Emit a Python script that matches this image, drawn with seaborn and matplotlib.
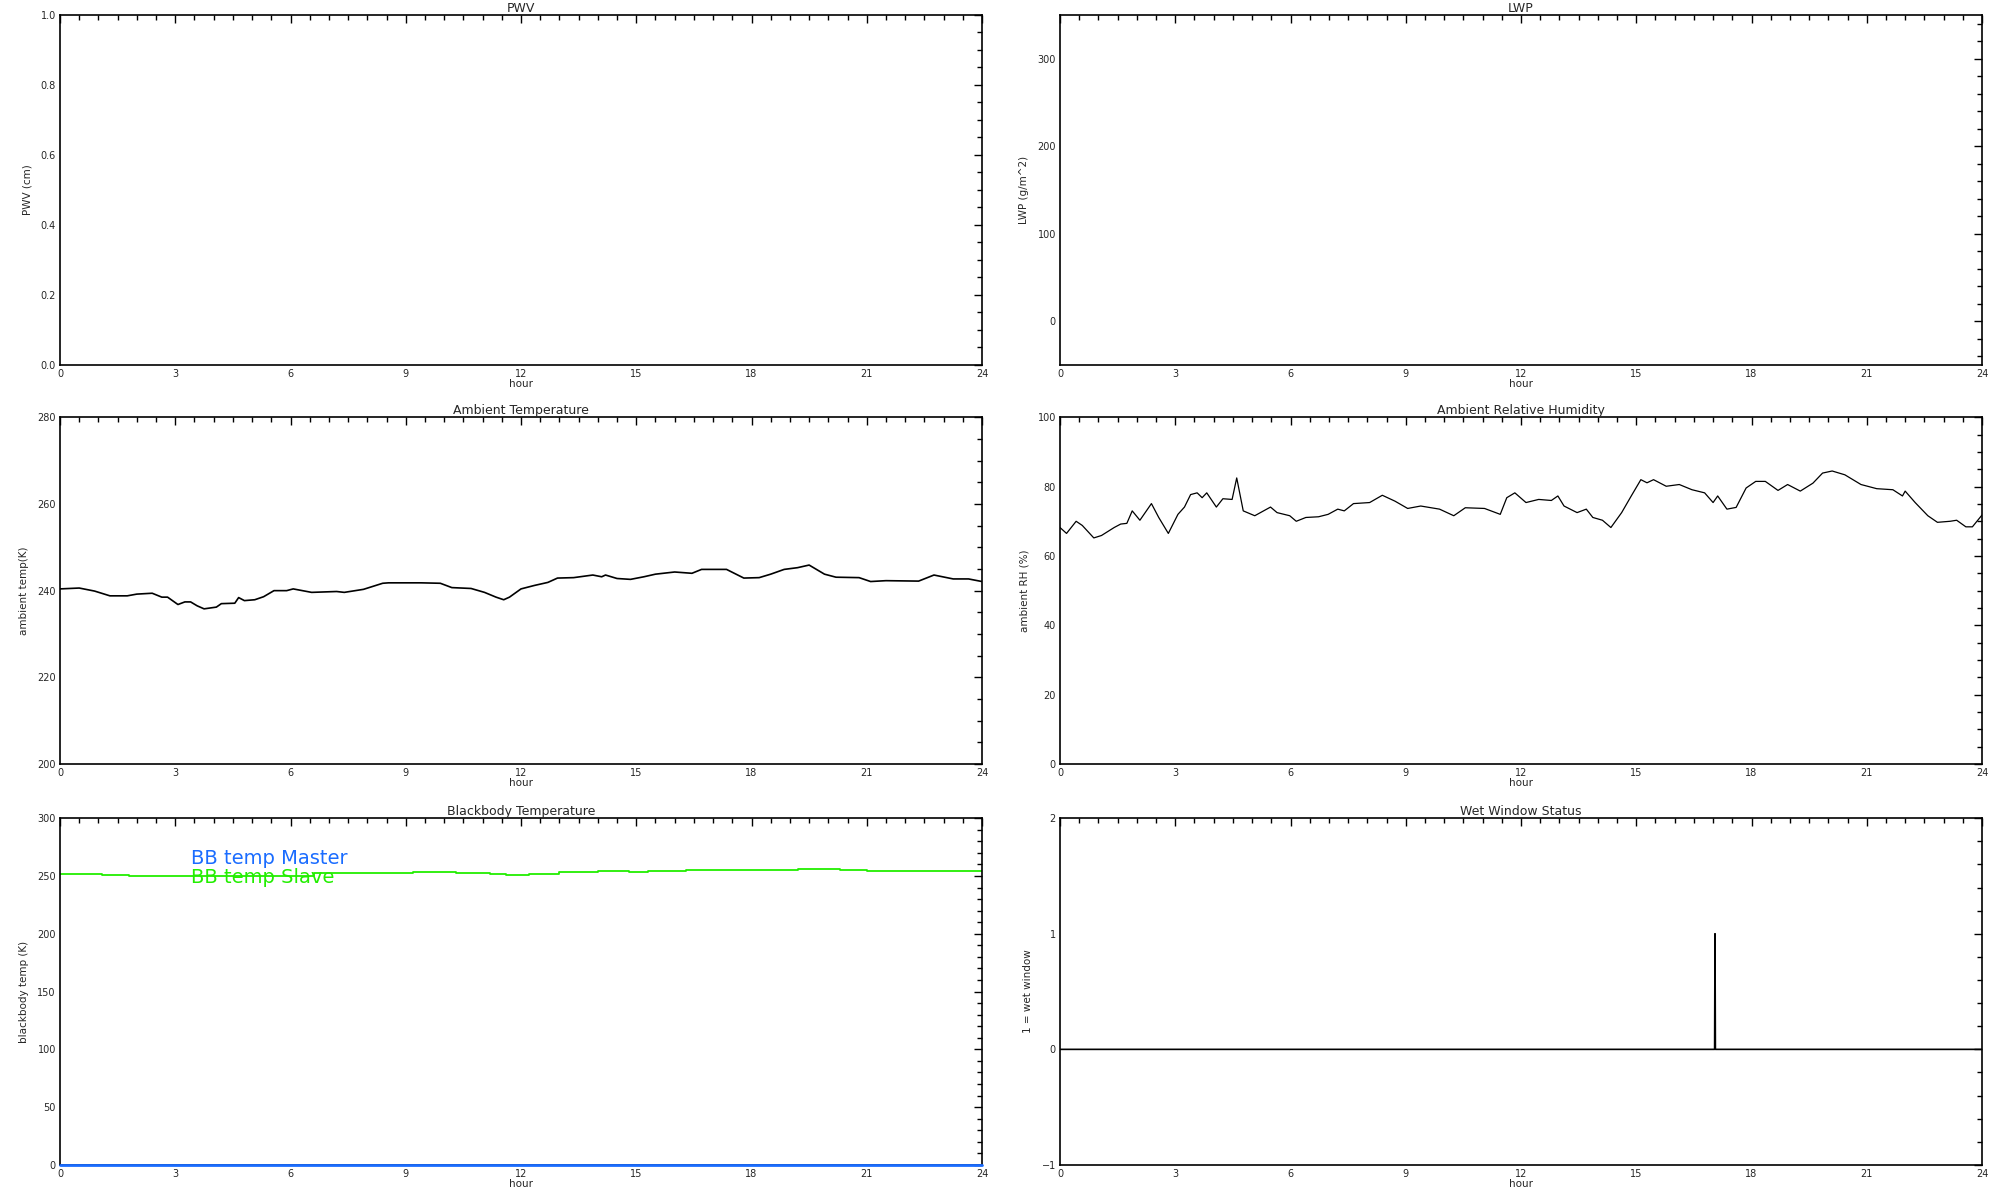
import numpy as np
import pandas as pd
import matplotlib
matplotlib.use("Agg")
import matplotlib.pyplot as plt
from matplotlib.ticker import MultipleLocator, FormatStrFormatter
import seaborn as sns

sns.set_theme(style="white")
plt.rcParams['font.family'] = ['DejaVu Sans']

# --- data
temp_hours = [0.0, 0.5, 0.9, 1.3, 1.75, 2.0, 2.4, 2.65, 2.8, 3.07, 3.25, 3.4, 3.57, 3.75,
              4.07, 4.2, 4.55, 4.65, 4.8, 5.07, 5.3, 5.57, 5.9, 6.07, 6.55, 7.2, 7.4, 7.9,
              8.4, 8.55, 9.4, 9.9, 10.2, 10.7, 11.05, 11.35, 11.55, 11.7, 12.0, 12.35,
              12.7, 12.95, 13.37, 13.87, 14.1, 14.2, 14.5, 14.85, 15.2, 15.5, 16.0, 16.45,
              16.7, 17.35, 17.8, 18.2, 18.5, 18.85, 19.2, 19.5, 19.9, 20.2, 20.8, 21.1,
              21.5, 22.35, 22.75, 23.25, 23.65, 24.0]
temp_values = [240.4, 240.6, 239.9, 238.8, 238.8, 239.2, 239.4, 238.5, 238.5, 236.8, 237.4,
               237.4, 236.5, 235.8, 236.2, 237.0, 237.1, 238.4, 237.7, 237.9, 238.6, 240.0,
               240.0, 240.4, 239.6, 239.8, 239.6, 240.3, 241.7, 241.8, 241.8, 241.7, 240.7,
               240.5, 239.6, 238.5, 237.9, 238.5, 240.4, 241.2, 241.9, 242.9, 243.0, 243.6,
               243.2, 243.6, 242.8, 242.6, 243.2, 243.8, 244.3, 244.0, 244.9, 244.9, 242.9,
               243.0, 243.8, 244.9, 245.3, 245.9, 243.8, 243.1, 243.0, 242.1, 242.3, 242.2,
               243.6, 242.7, 242.7, 242.1]

rh_hours = [0.0, 0.17, 0.42, 0.58, 0.88, 1.08, 1.41, 1.58, 1.74, 1.88, 2.08, 2.38, 2.57,
            2.82, 3.07, 3.24, 3.4, 3.57, 3.7, 3.82, 4.07, 4.24, 4.48, 4.6, 4.77, 5.07, 5.48,
            5.65, 5.98, 6.15, 6.4, 6.73, 6.98, 7.23, 7.4, 7.64, 8.06, 8.39, 8.72, 9.05, 9.39,
            9.88, 10.25, 10.55, 11.05, 11.46, 11.63, 11.84, 12.13, 12.46, 12.79, 12.96, 13.12,
            13.46, 13.7, 13.87, 14.12, 14.34, 14.62, 14.87, 15.12, 15.28, 15.45, 15.78, 16.12,
            16.45, 16.78, 17.0, 17.12, 17.36, 17.6, 17.86, 18.11, 18.36, 18.69, 18.94, 19.27,
            19.6, 19.85, 20.1, 20.43, 20.85, 21.26, 21.68, 21.93, 22.0, 22.26, 22.59, 22.84,
            23.17, 23.34, 23.58, 23.75, 24.0]
rh_values = [68.2, 66.5, 70.0, 68.8, 65.2, 65.9, 68.2, 69.2, 69.4, 73.0, 70.3, 75.1, 71.1,
             66.5, 72.0, 74.1, 77.7, 78.2, 76.8, 78.2, 74.1, 76.5, 76.3, 82.5, 73.0, 71.6,
             74.1, 72.5, 71.6, 70.0, 71.1, 71.3, 72.0, 73.5, 73.0, 75.1, 75.4, 77.5, 75.8,
             73.7, 74.4, 73.5, 71.6, 73.9, 73.7, 72.0, 76.8, 78.2, 75.4, 76.3, 76.0, 77.3,
             74.4, 72.5, 73.5, 71.1, 70.3, 68.2, 72.5, 77.3, 82.0, 81.1, 82.0, 80.1, 80.6,
             79.1, 78.2, 75.4, 77.3, 73.5, 74.0, 79.6, 81.5, 81.5, 78.9, 80.6, 78.7, 81.0,
             83.9, 84.5, 83.4, 80.6, 79.4, 79.1, 77.3, 78.7, 75.4, 71.6, 69.7, 70.0, 70.3,
             68.4, 68.4, 71.8]

bb_hours = [0.0, 1.1, 1.8, 4.0, 6.6, 8.5, 9.2, 10.3, 11.2, 11.6, 12.2, 13.0, 13.3, 14.0,
            14.8, 15.3, 16.3, 19.2, 20.3, 21.0, 24.0]
bb_slave = [251.6, 250.8, 249.6, 250.2, 252.2, 252.5, 253.6, 252.5, 252.0, 251.1, 252.0,
            253.0, 253.6, 254.5, 253.6, 254.5, 255.3, 256.2, 255.3, 254.5, 254.5]
bb_master_hours = [0.0, 24.0]
bb_master = [0.0, 0.0]

wet_hours = [0.0, 17.04, 17.05, 17.06, 24.0]
wet_status = [0, 0, 1, 0, 0]

bb_labels = ["BB temp Master", "BB temp Slave"]
bb_colors = ["#1a6cff", "#22ee00"]

fig = plt.figure(figsize=(20, 12), dpi=100)

left_x, right_x, col_w = 0.030, 0.530, 0.461
rows = [(0.696, 0.2915), (0.3633, 0.289), (0.0292, 0.289)]


def style_axes(ax, title, ylabel, ylim, ymajor, yminor):
    ax.set_xlim(0, 24)
    ax.set_ylim(*ylim)
    ax.xaxis.set_major_locator(MultipleLocator(3))
    ax.xaxis.set_minor_locator(MultipleLocator(0.5))
    ax.yaxis.set_major_locator(MultipleLocator(ymajor))
    ax.yaxis.set_minor_locator(MultipleLocator(yminor))
    ax.tick_params(which="both", direction="in", top=True, right=True,
                   labelsize=7, width=1, color="black", pad=3)
    ax.tick_params(which="major", length=6)
    ax.tick_params(which="minor", length=3.5)
    for s in ax.spines.values():
        s.set_visible(True)
        s.set_color("black")
        s.set_linewidth(1.2)
    ax.set_title(title, fontsize=9, pad=2)
    ax.set_ylabel(ylabel, fontsize=7.5, labelpad=6)
    ax.set_xlabel("hour", fontsize=7.5, labelpad=0)
    ax.grid(False)


# PWV (empty)
ax = fig.add_axes([left_x, rows[0][0], col_w, rows[0][1]])
style_axes(ax, "PWV", "PWV (cm)", (0, 1), 0.2, 0.05)
ax.yaxis.set_major_formatter(FormatStrFormatter("%.1f"))

# LWP (empty)
ax = fig.add_axes([right_x, rows[0][0], col_w, rows[0][1]])
style_axes(ax, "LWP", "LWP (g/m^2)", (-50, 350), 100, 20)

# Ambient temperature
ax = fig.add_axes([left_x, rows[1][0], col_w, rows[1][1]])
sns.lineplot(x=temp_hours, y=temp_values, ax=ax, color="black", lw=1.2,
             estimator=None, sort=False)
style_axes(ax, "Ambient Temperature", "ambient temp(K)", (200, 280), 20, 5)

# Ambient RH
ax = fig.add_axes([right_x, rows[1][0], col_w, rows[1][1]])
sns.lineplot(x=rh_hours, y=rh_values, ax=ax, color="black", lw=0.9,
             estimator=None, sort=False)
style_axes(ax, "Ambient Relative Humidity", "ambient RH (%)", (0, 100), 20, 5)

# Blackbody temperature
ax = fig.add_axes([left_x, rows[2][0], col_w, rows[2][1]])
sns.lineplot(x=bb_master_hours, y=bb_master, ax=ax, color=bb_colors[0], lw=2,
             estimator=None, sort=False, clip_on=False, zorder=5)
sns.lineplot(x=bb_hours, y=bb_slave, ax=ax, color=bb_colors[1], lw=1.3,
             estimator=None, sort=False, drawstyle="steps-post")
style_axes(ax, "Blackbody Temperature", "blackbody temp (K)", (0, 300), 50, 10)
ax.text(3.42, 260, bb_labels[0], color=bb_colors[0], fontsize=14, va="baseline")
ax.text(3.42, 243.5, bb_labels[1], color=bb_colors[1], fontsize=14, va="baseline")

# Wet window
ax = fig.add_axes([right_x, rows[2][0], col_w, rows[2][1]])
sns.lineplot(x=wet_hours, y=wet_status, ax=ax, color="black", lw=1.2,
             estimator=None, sort=False)
style_axes(ax, "Wet Window Status", "1 = wet window", (-1, 2), 1, 0.2)

fig.savefig("out.png", dpi=100, facecolor="white")
